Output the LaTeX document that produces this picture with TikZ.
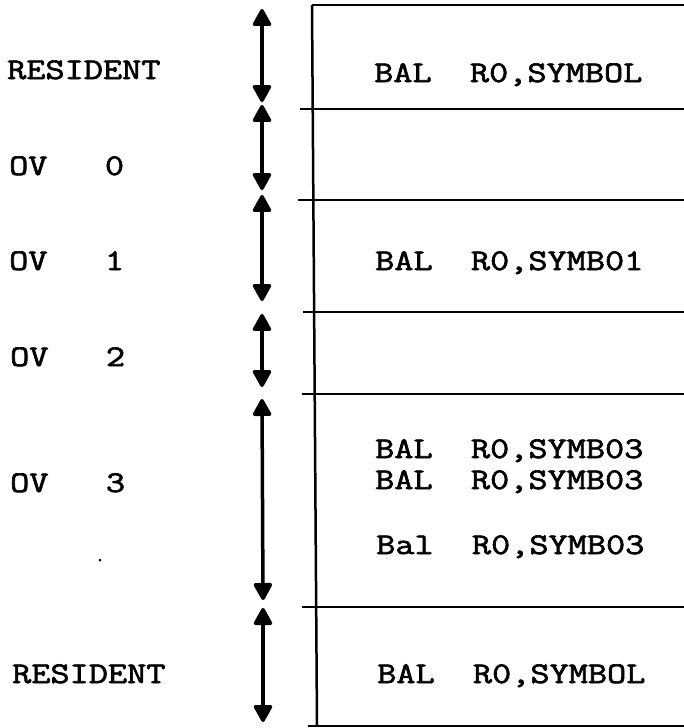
\documentclass[tikz,border=0pt]{standalone}
\usepackage{fontspec}
\newfontfamily\typew{Latin Modern Mono}[FakeStretch=1.24,FakeBold=2.2]
\usetikzlibrary{arrows.meta}
\begin{document}
\begin{tikzpicture}[x=1pt,y=-1pt,
  txt/.style={anchor=base west, inner sep=0pt, font=\fontsize{30}{34}\selectfont\typew},
  rule/.style={line width=2.5pt},
  span/.style={line width=3.5pt, {Triangle[width=20pt,length=19pt,round]}-{Triangle[width=20pt,length=19pt,round]}},
]
\useasboundingbox (0,0) rectangle (684,728);
% frame
\coordinate (vt) at (312,5);
\coordinate (vb) at (317,726);
\coordinate (tr) at (690,5);
\draw[rule] (vt) -- (vb);
\draw[rule] (vt) -- (tr);
\coordinate (h1l) at (300,109); \coordinate (h1r) at (690,109);
\coordinate (h2l) at (298,200); \coordinate (h2r) at (690,200);
\coordinate (h3l) at (303,312); \coordinate (h3r) at (690,312);
\coordinate (h4l) at (302,394); \coordinate (h4r) at (690,394);
\coordinate (h5l) at (302,607); \coordinate (h5r) at (690,607);
\coordinate (h6l) at (308,726); \coordinate (h6r) at (690,726);
\draw[rule] (h1l) -- (h1r);
\draw[rule] (h2l) -- (h2r);
\draw[rule] (h3l) -- (h3r);
\draw[rule] (h4l) -- (h4r);
\draw[rule] (h5l) -- (h5r);
\draw[rule] (h6l) -- (h6r);
% arrows
\coordinate (a1t) at (262,9);   \coordinate (a1b) at (262,102);
\coordinate (a2t) at (262,105); \coordinate (a2b) at (262,190);
\coordinate (a3t) at (262,195); \coordinate (a3b) at (262,301);
\coordinate (a4t) at (262,314); \coordinate (a4b) at (262,387);
\coordinate (a5t) at (262,399); \coordinate (a5b) at (263,600);
\coordinate (a6t) at (263,608); \coordinate (a6b) at (263,722);
\draw[span] (a1t) -- (a1b);
\draw[span] (a2t) -- (a2b);
\draw[span] (a3t) -- (a3b);
\draw[span] (a4t) -- (a4b);
\draw[span] (a5t) -- (a5b);
\draw[span] (a6t) -- (a6b);
% box texts
\node[txt] (b1) at (374,82)  {BAL\ \ R0,SYMBOL};
\node[txt] (b2) at (375,270) {BAL\ \ R0,SYMB01};
\node[txt] (b3) at (375,458) {BAL\ \ R0,SYMB03};
\node[txt] (b4) at (375,489) {BAL\ \ R0,SYMB03};
\node[txt] (b5) at (376,554) {Bal\ \ R0,SYMB03};
\node[txt] (b6) at (377,683) {BAL\ \ R0,SYMBOL};
% left labels
\node[txt] (l1) at (7,79)   {RESIDENT};
\node[txt] (l2) at (9,175)  {OV\ \ \ 0};
\node[txt] (l3) at (9,270)  {OV\ \ \ 1};
\node[txt] (l4) at (10,366) {OV\ \ \ 2};
\node[txt] (l5) at (10,492) {OV\ \ \ 3};
\node[txt] (l6) at (12,683) {RESIDENT};
\fill (100,560) circle (1.5);
\end{tikzpicture}
\end{document}
